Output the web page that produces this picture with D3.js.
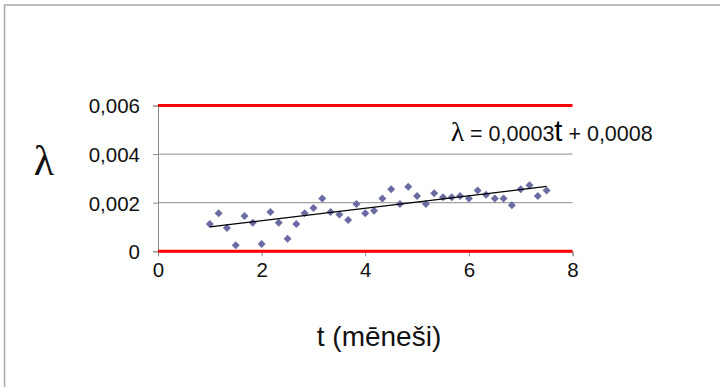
<!DOCTYPE html>
<html lang="lv">
<head>
    <meta charset="UTF-8">
    <title>λ pret t</title>
    <script src="https://cdn.jsdelivr.net/npm/d3@7"></script>
    <style>
        body {
            margin: 0;
            padding: 0;
            background: #fff;
            overflow: hidden;
        }
        svg text {
            font-family: "Liberation Sans", Arial, sans-serif;
            fill: #111;
        }
    </style>
</head>
<body>
    <svg id="chart"></svg>
    <script>
        // measured points (t in months, lambda)
        const tValues = [1.00, 1.17, 1.33, 1.50, 1.67, 1.83, 2.00, 2.17, 2.33, 2.50,
                         2.67, 2.83, 3.00, 3.17, 3.33, 3.50, 3.67, 3.83, 4.00, 4.17,
                         4.33, 4.50, 4.67, 4.83, 5.00, 5.17, 5.33, 5.50, 5.67, 5.83,
                         6.00, 6.17, 6.33, 6.50, 6.67, 6.83, 7.00, 7.17, 7.33, 7.50];
        const lambdaValues = [0.00112, 0.00157, 0.00096, 0.00025, 0.00145, 0.00118, 0.00030, 0.00162, 0.00118, 0.00052,
                              0.00112, 0.00157, 0.00178, 0.00217, 0.00162, 0.00151, 0.00129, 0.00195, 0.00157, 0.00167,
                              0.00217, 0.00255, 0.00195, 0.00266, 0.00228, 0.00195, 0.00239, 0.00222, 0.00222, 0.00228,
                              0.00217, 0.00250, 0.00233, 0.00217, 0.00217, 0.00190, 0.00255, 0.00272, 0.00228, 0.00250];

        // trend line as drawn (intercept, slope)
        const trendCoef = [0.00075, 0.000256];
        const trendRange = [1.0, 7.5];

        // red limit lines
        const limitLines = [0, 0.006];

        const xTicks = [0, 2, 4, 6, 8];
        const yTicks = [0, 0.002, 0.004, 0.006];
        const yTickLabels = ['0', '0,002', '0,004', '0,006'];

        const width = 720, height = 387;
        const svg = d3.select('#chart')
            .attr('width', width)
            .attr('height', height);

        // outer frame
        svg.append('rect')
            .attr('x', 4.5).attr('y', 5)
            .attr('width', 800).attr('height', 500)
            .attr('fill', 'none')
            .attr('stroke', '#a8a8a8')
            .attr('stroke-width', 1.5);

        const x = d3.scaleLinear().domain([0, 8]).range([158, 572.5]);
        const y = d3.scaleLinear().domain([0, 0.006]).range([251.3, 105.5]);

        // grid lines
        svg.append('g')
            .selectAll('line')
            .data(yTicks.filter(v => !limitLines.includes(v)))
            .enter()
            .append('line')
            .attr('x1', x(0)).attr('x2', x(8))
            .attr('y1', d => y(d)).attr('y2', d => y(d))
            .attr('stroke', '#8c8c8c')
            .attr('stroke-width', 1);

        // axes
        const yAxis = svg.append('g')
            .attr('transform', `translate(${x(0)},0)`)
            .call(d3.axisLeft(y).tickValues(yTicks).tickSize(5).tickFormat((d, i) => yTickLabels[i]));
        const xAxis = svg.append('g')
            .attr('transform', `translate(0,${y(0)})`)
            .call(d3.axisBottom(x).tickValues(xTicks).tickSize(5).tickFormat(d3.format('d')));

        [yAxis, xAxis].forEach(ax => {
            ax.select('.domain').attr('stroke', '#8c8c8c');
            ax.selectAll('.tick line').attr('stroke', '#8c8c8c');
            ax.selectAll('.tick text')
                .attr('fill', '#111')
                .style('font-size', '20.5px');
        });
        yAxis.selectAll('.tick text').attr('x', -18).attr('dy', '0.36em');
        xAxis.selectAll('.tick text').attr('y', 11).attr('dy', '0.74em');

        // red limit lines
        svg.append('g')
            .selectAll('line')
            .data(limitLines)
            .enter()
            .append('line')
            .attr('x1', x(0)).attr('x2', x(8))
            .attr('y1', d => y(d)).attr('y2', d => y(d))
            .attr('stroke', '#ff0000')
            .attr('stroke-width', 3);

        // data points as diamonds
        const pts = tValues.map((t, i) => ({ t: t, v: lambdaValues[i] }));
        const diamond = 'M0,-4L4,0L0,4L-4,0Z';
        svg.append('g')
            .selectAll('path')
            .data(pts)
            .enter()
            .append('path')
            .attr('d', diamond)
            .attr('transform', d => `translate(${x(d.t)},${y(d.v)})`)
            .attr('fill', '#6b6ba3');

        // trend line
        const trendLine = d3.line()
            .x(d => x(d))
            .y(d => y(trendCoef[0] + trendCoef[1] * d));
        svg.append('path')
            .datum(trendRange)
            .attr('d', trendLine)
            .attr('fill', 'none')
            .attr('stroke', '#000')
            .attr('stroke-width', 1.2);

        // equation label
        const eq = svg.append('text')
            .attr('x', 451)
            .attr('y', 141);
        eq.append('tspan')
            .style('font-family', '"Liberation Serif", "DejaVu Serif", serif')
            .style('font-size', '27px')
            .attr('fill', '#000')
            .text('λ');
        eq.append('tspan')
            .style('font-size', '21.5px')
            .text(' = 0,0003');
        eq.append('tspan')
            .style('font-size', '29px')
            .attr('fill', '#000')
            .text('t');
        eq.append('tspan')
            .style('font-size', '21.5px')
            .text(' + 0,0008');

        // axis titles
        svg.append('text')
            .attr('x', 44)
            .attr('y', 175)
            .attr('text-anchor', 'middle')
            .style('font-family', '"Liberation Serif", "DejaVu Serif", serif')
            .style('font-size', '42px')
            .attr('fill', '#000')
            .text('λ');

        svg.append('text')
            .attr('x', 379)
            .attr('y', 346)
            .attr('text-anchor', 'middle')
            .style('font-size', '28px')
            .attr('fill', '#000')
            .text('t (mēneši)');
    </script>
</body>
</html>
